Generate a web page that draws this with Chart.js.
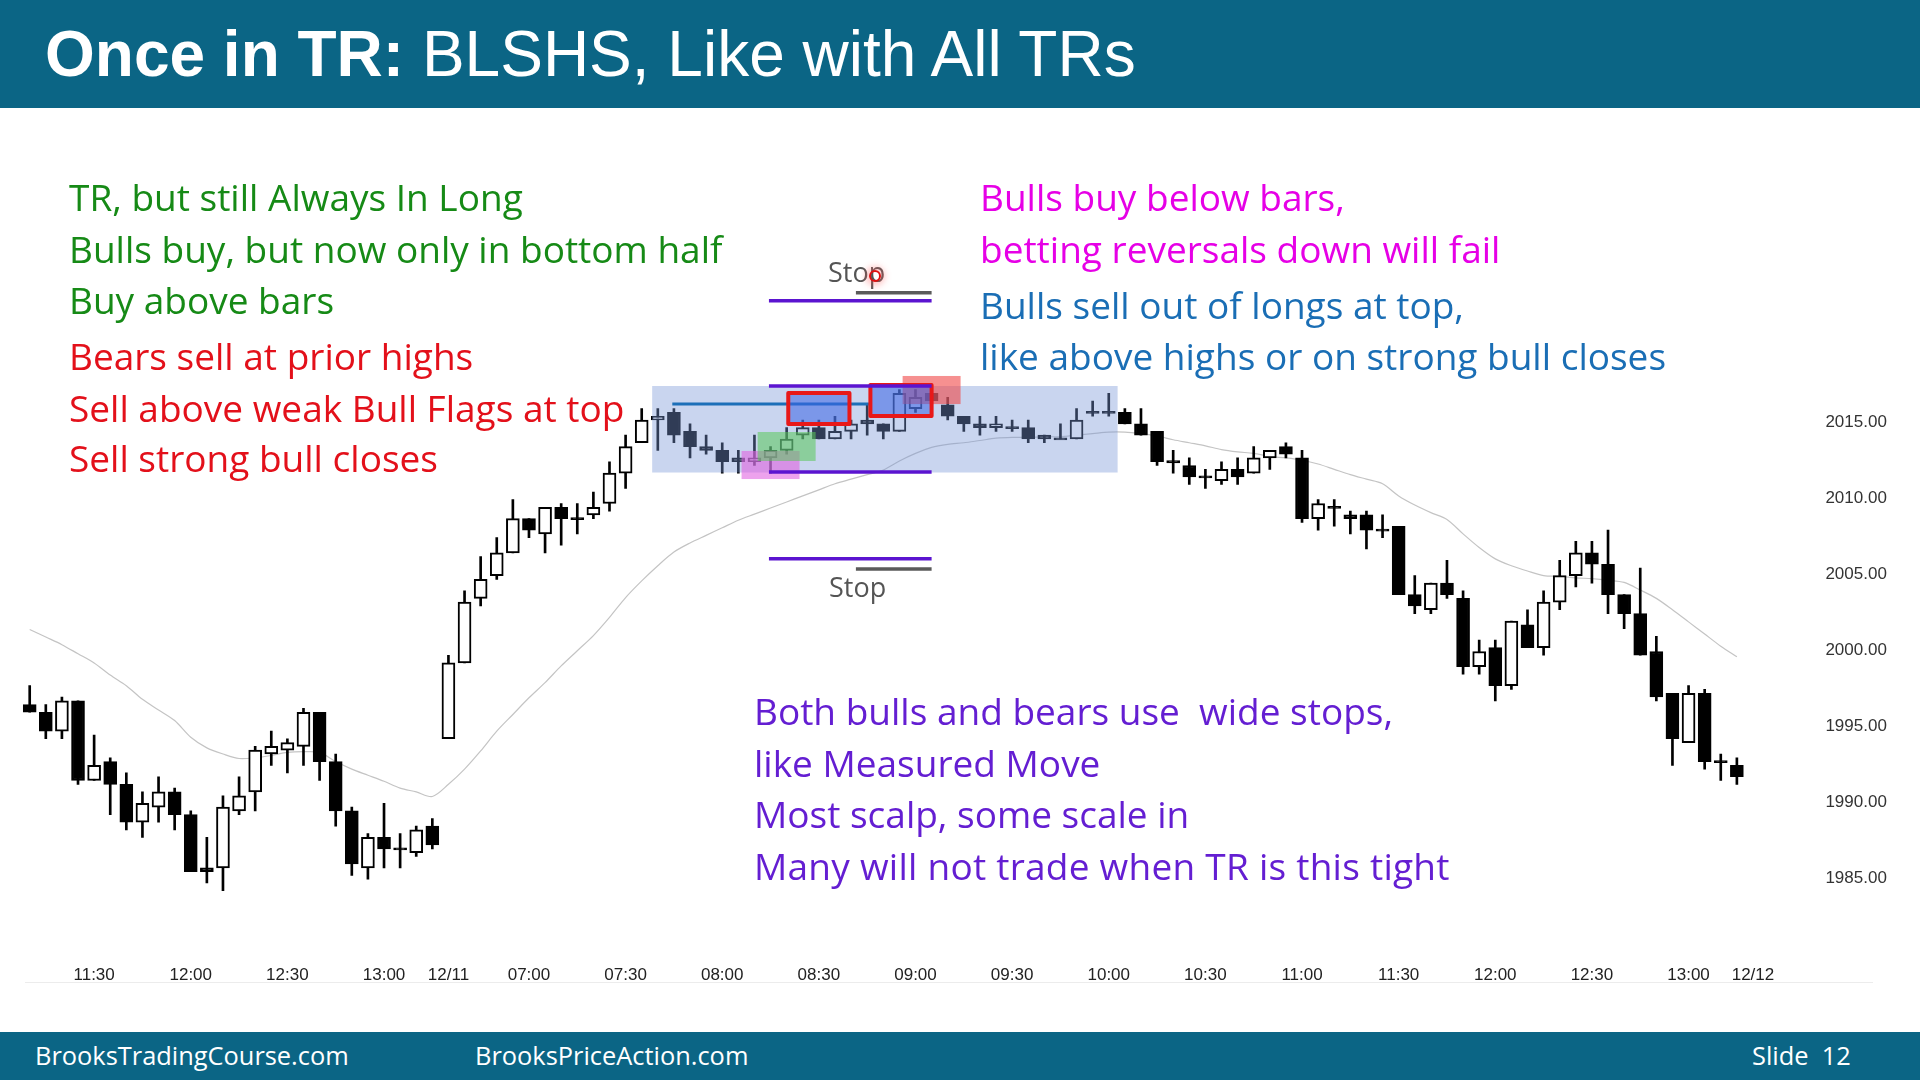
<!DOCTYPE html>
<html>
<head>
<meta charset="utf-8">
<script src="https://cdn.jsdelivr.net/npm/chart.js@4.4.1/dist/chart.umd.min.js"></script>
<style>
  html, body { margin: 0; padding: 0; background: #fff; }
  body { width: 1920px; height: 1080px; position: relative; overflow: hidden; font-family: 'Open Sans', sans-serif; }
  #c { position: absolute; left: 0; top: 0; }
  .band { position: absolute; left: 0; width: 1920px; background: #0b6585; color: #fff; }
  #head { top: 0; height: 108px; }
  #head .t { position: absolute; left: 45px; top: 0; line-height: 108px; font-size: 64px; font-family: 'Liberation Sans', Arial, sans-serif; white-space: pre; }
  #foot { top: 1032px; height: 48px; }
  #foot span { position: absolute; top: 0; line-height: 46px; font-size: 25.4px; white-space: pre; }
  .ln { position: absolute; font-size: 37px; line-height: 50px; white-space: pre; }
  .g { color: #168a16; left: 69px; }
  .r { color: #e3101a; left: 69px; }
  .m { color: #e600e6; left: 980px; }
  .b { color: #1a6eb5; left: 980px; }
  .p { color: #641ed2; left: 754px; }
  .stop { position: absolute; font-size: 27px; line-height: 34px; color: #555; }
  #dot { position: absolute; left: 869px; top: 270px; width: 8px; height: 8px; border: 2px solid #e01010; border-radius: 50%; box-shadow: 0 0 6px 4px rgba(255, 90, 90, 0.35); }
  #rule { position: absolute; left: 25px; top: 982px; width: 1848px; height: 1px; background: #ececec; }
</style>
</head>
<body>
<canvas id="c" width="1920" height="1080"></canvas>

<div class="band" id="head"><div class="t"><b>Once in TR:</b> BLSHS, Like with All TRs</div></div>

<div class="ln g" style="top:172px">TR, but still Always In Long</div>
<div class="ln g" style="top:224px">Bulls buy, but now only in bottom half</div>
<div class="ln g" style="top:275px">Buy above bars</div>
<div class="ln r" style="top:331px">Bears sell at prior highs</div>
<div class="ln r" style="top:383px">Sell above weak Bull Flags at top</div>
<div class="ln r" style="top:433px">Sell strong bull closes</div>

<div class="ln m" style="top:172px">Bulls buy below bars,</div>
<div class="ln m" style="top:224px">betting reversals down will fail</div>
<div class="ln b" style="top:280px">Bulls sell out of longs at top,</div>
<div class="ln b" style="top:331px">like above highs or on strong bull closes</div>

<div class="ln p" style="top:686px">Both bulls and bears use  wide stops,</div>
<div class="ln p" style="top:738px">like Measured Move</div>
<div class="ln p" style="top:789px">Most scalp, some scale in</div>
<div class="ln p" style="top:841px;letter-spacing:0.25px">Many will not trade when TR is this tight</div>

<div class="stop" style="left:828px;top:255px">Stop</div>
<div class="stop" style="left:829px;top:570px">Stop</div>
<div id="dot"></div>
<div id="rule"></div>

<div class="band" id="foot">
  <span style="left:35px">BrooksTradingCourse.com</span>
  <span style="left:475px">BrooksPriceAction.com</span>
  <span style="left:1752px">Slide  12</span>
</div>

<script>
// 5 minute bars, 12/10 afternoon and 12/11 day session

function session(from, to) {
  const out = [];
  let [h, m] = from.split(':').map(Number);
  const [eh, em] = to.split(':').map(Number);
  while (h < eh || (h === eh && m <= em)) {
    out.push(String(h).padStart(2, '0') + ':' + String(m).padStart(2, '0'));
    m += 5;
    if (m >= 60) { m -= 60; h++; }
  }
  return out;
}

const day1 = session('11:10', '13:15');
const day2 = session('06:35', '13:15');
day2[0] = '12/11';
const slots = [...day1, ...day2, '12/12'];

const tickLabels = ['11:30', '12:00', '12:30', '13:00', '12/11', '07:00', '07:30', '08:00', '08:30', '09:00',
  '09:30', '10:00', '10:30', '11:00', '12/12'];
const priceTicks = [1985, 1990, 1995, 2000, 2005, 2010, 2015];

const opens = [
  1996.25, 1995.75, 1994.5, 1996.5, 1991.25, 1992.5, 1991, 1988.5, 1989.5, 1990.5,
  1989, 1985.5, 1985.5, 1989.25, 1990.5, 1993, 1993.25, 1993.5, 1995.75, 1992.5,
  1989.25, 1985.5, 1987.5, 1986.75, 1986.5, 1988.25,
  1994, 1999, 2003.25, 2004.75, 2006.25, 2008.5, 2007.5, 2009.25, 2008.5, 2008.75,
  2009.5, 2011.5, 2013.5, 2015, 2015.5, 2014.25, 2013.25, 2013, 2012.5, 2012.25,
  2012.5, 2013, 2014, 2014.5, 2013.75, 2014.25, 2015, 2014.75, 2014.25, 2015.75,
  2016.75, 2016, 2015.25, 2014.75, 2014.5, 2014.5, 2014.5, 2014, 2013.75, 2013.75,
  2015.5, 2015.5, 2015.5, 2014.75, 2014.25, 2012.25, 2012, 2011.25, 2011, 2011.75,
  2011.5, 2012.5, 2013.25, 2012.5, 2008.5, 2009.25, 2008.75, 2008.75, 2007.75, 2008,
  2003.5, 2002.5, 2004.25, 2003.25, 1998.75, 2000, 1997.5, 2001.5, 2000, 2003,
  2004.75, 2006.25, 2005.5, 2003.5, 2002.25, 1999.75, 1997, 1993.75, 1997, 1992.5,
  1992.25
];
const highs = [
  1997.5, 1996.25, 1996.75, 1996.5, 1994.25, 1992.75, 1991.75, 1990.5, 1991.5, 1990.75,
  1989.25, 1987.5, 1990.25, 1991.5, 1993.5, 1994.5, 1994, 1996, 1995.75, 1993,
  1989.5, 1987.75, 1989.75, 1987.75, 1988.25, 1988.75,
  1999.5, 2003.75, 2006, 2007.25, 2009.75, 2008.5, 2009.25, 2009.5, 2009.5, 2010.25,
  2012.25, 2014, 2015.75, 2015.75, 2015.75, 2014.75, 2014, 2013.5, 2013, 2014,
  2013.25, 2014.5, 2015, 2015, 2015.25, 2015, 2016, 2014.75, 2017, 2017,
  2017, 2016.5, 2015.25, 2015.25, 2015.25, 2015, 2015, 2014, 2014.75, 2015.75,
  2016.25, 2016.75, 2015.75, 2015.75, 2014.25, 2013, 2012.5, 2011.75, 2012.25, 2012.5,
  2013.25, 2013, 2013.5, 2013, 2009.75, 2009.75, 2009, 2009, 2008.75, 2008,
  2004.75, 2004.25, 2005.75, 2003.75, 2000.5, 2000.5, 2001.75, 2002.5, 2003.75, 2005.75,
  2007, 2007, 2007.75, 2003.5, 2005.25, 2000.75, 1997, 1997.5, 1997.25, 1993,
  1992.75
];
const lows = [
  1995.75, 1994, 1994, 1991, 1991.25, 1989, 1988, 1987.5, 1988.5, 1988,
  1985.25, 1984.5, 1984, 1989, 1989.25, 1992.25, 1991.75, 1992.25, 1991.25, 1988.25,
  1985, 1984.75, 1985.5, 1985.5, 1986.25, 1986.75,
  1994, 1999, 2002.75, 2004.5, 2006.25, 2007.25, 2006.25, 2006.75, 2007.5, 2008.5,
  2009, 2010.5, 2013.5, 2013, 2013.5, 2012.5, 2012.75, 2011.5, 2011.5, 2012,
  2011.5, 2012.75, 2013.75, 2013.75, 2013.75, 2013.75, 2014, 2013.75, 2014.25, 2015.5,
  2016, 2015, 2014.25, 2014, 2014.25, 2014.25, 2013.5, 2013.5, 2013.75, 2013.75,
  2015.25, 2015.25, 2014.75, 2014, 2012, 2011.5, 2010.75, 2010.5, 2010.75, 2010.75,
  2011.5, 2011.75, 2012.5, 2008.25, 2007.75, 2008, 2007.5, 2006.5, 2007.25, 2003.5,
  2002.25, 2002.25, 2003.25, 1998.25, 1998.25, 1996.5, 1997.25, 2000, 1999.5, 2002.5,
  2004, 2004.25, 2002.25, 2001.25, 1999.5, 1996.5, 1992.25, 1993.75, 1992, 1991.25,
  1991
];
const closes = [
  1995.75, 1994.5, 1996.5, 1991.25, 1992.25, 1991, 1988.5, 1989.75, 1990.5, 1989,
  1985.25, 1985.25, 1989.5, 1990.25, 1993.25, 1993.5, 1993.75, 1995.75, 1992.5, 1989.25,
  1985.75, 1987.5, 1986.75, 1986.75, 1988, 1987,
  1999, 2003, 2004.5, 2006.25, 2008.5, 2007.75, 2009.25, 2008.5, 2008.5, 2009.25,
  2011.5, 2013.25, 2015, 2015.25, 2014, 2013.25, 2013, 2012.25, 2012.25, 2012.5,
  2013, 2013.75, 2014.5, 2013.75, 2014.25, 2014.75, 2014.75, 2014.25, 2016.75, 2016.5,
  2016.25, 2015.25, 2014.75, 2014.5, 2014.75, 2014.5, 2013.75, 2013.75, 2013.75, 2015,
  2015.5, 2015.5, 2014.75, 2014, 2012.25, 2012.25, 2011.25, 2011.25, 2011.75, 2011.25,
  2012.5, 2013, 2012.75, 2008.5, 2009.5, 2009.25, 2008.5, 2007.75, 2007.75, 2003.5,
  2002.75, 2004.25, 2003.5, 1998.75, 1999.75, 1997.5, 2001.75, 2000, 2003, 2004.75,
  2006.25, 2005.5, 2003.5, 2002.25, 1999.5, 1996.75, 1994, 1997, 1992.5, 1992.5,
  1991.5
];
// moving average
const avg = [
  2001.2, 2000.7, 2000.2, 1999.6, 1999.0, 1998.2, 1997.5, 1996.6, 1995.9, 1995.2,
  1994.1, 1993.4, 1993.0, 1992.7, 1992.75, 1992.9, 1993.1, 1993.15, 1993.1, 1992.5,
  1992.0, 1991.6, 1991.2, 1990.75, 1990.5, 1990.2,
  1991.0, 1992.0, 1993.2, 1994.5, 1995.6, 1996.7, 1997.7, 1998.8, 1999.8, 2000.8,
  2002.0, 2003.3, 2004.4, 2005.4, 2006.3, 2006.9, 2007.4, 2007.9, 2008.4, 2008.8,
  2009.2, 2009.6, 2010.0, 2010.4, 2010.8, 2011.1, 2011.4, 2011.7, 2012.3, 2012.8,
  2013.2, 2013.4, 2013.5, 2013.65, 2013.8, 2013.85, 2013.85, 2013.9, 2013.9, 2014.0,
  2014.1, 2014.2, 2014.2, 2014.1, 2013.95, 2013.7, 2013.5, 2013.3, 2013.05, 2012.9,
  2012.8, 2012.6, 2012.5, 2012.35, 2012.1, 2011.75, 2011.4, 2011.1, 2010.8, 2010.0,
  2009.4, 2008.9, 2008.45, 2007.5, 2006.6, 2005.85, 2005.4, 2005.05, 2004.75, 2004.7,
  2004.6, 2004.55, 2004.45, 2004.3, 2003.8, 2003.25, 2002.5, 2001.7, 2000.9, 2000.1,
  1999.4
];

// drawn marks on the slide, in bar index / price units
const marks = [
  { kind: 'box', x0: 38.65, x1: 67.55, y0: 2011.54, y1: 2017.24, fill: 'rgba(120,150,215,0.4)' },
  { kind: 'line', x0: 39.9, x1: 52.2, y: 2016.05, color: '#1c6fb8', width: 3 },
  { kind: 'box', x0: 44.2, x1: 47.8, y0: 2011.11, y1: 2012.96, fill: 'rgba(225,100,225,0.6)' },
  { kind: 'box', x0: 45.2, x1: 48.8, y0: 2012.3, y1: 2014.21, fill: 'rgba(90,200,90,0.55)' },
  { kind: 'box', x0: 54.2, x1: 57.8, y0: 2016.05, y1: 2017.9, fill: 'rgba(240,70,70,0.6)' },
  { kind: 'box', x0: 47.1, x1: 50.9, y0: 2014.74, y1: 2016.78, fill: 'rgba(60,100,230,0.55)', stroke: '#e81818' },
  { kind: 'box', x0: 52.2, x1: 56.0, y0: 2015.26, y1: 2017.31, fill: 'rgba(60,100,230,0.55)', stroke: '#e81818' },
  { kind: 'line', x0: 45.9, x1: 56.0, y: 2017.24, color: '#5b14d0', width: 3.5 },
  { kind: 'line', x0: 45.9, x1: 56.0, y: 2011.57, color: '#5b14d0', width: 3.5 },
  { kind: 'line', x0: 45.9, x1: 56.0, y: 2022.86, color: '#5b14d0', width: 3.5 },
  { kind: 'line', x0: 45.9, x1: 56.0, y: 2005.86, color: '#5b14d0', width: 3.5 },
  { kind: 'line', x0: 51.3, x1: 56.0, y: 2023.39, color: '#5a5a5a', width: 3.5 },
  { kind: 'line', x0: 51.3, x1: 56.0, y: 2005.18, color: '#5a5a5a', width: 3.5 }
];

const tickIdx = slots.map((s, i) => tickLabels.includes(s) ? i : -1).filter(i => i >= 0);

const bodies = opens.map((o, i) => {
  const c = closes[i];
  return { x: i, y: o === c ? [o - 0.07, o + 0.07] : [o, c] };
});
const wicks = highs.map((h, i) => ({ x: i, y: [lows[i], h] }));
const bodyFill = opens.map((o, i) => closes[i] > o ? '#ffffff' : '#000000');

const overlay = {
  id: 'overlay',
  afterDatasetsDraw(chart) {
    const { ctx, scales: { x, y } } = chart;
    ctx.save();
    for (const m of marks) {
      if (m.kind === 'box') {
        const l = x.getPixelForValue(m.x0), r = x.getPixelForValue(m.x1);
        const t = y.getPixelForValue(m.y1), b = y.getPixelForValue(m.y0);
        ctx.fillStyle = m.fill;
        ctx.fillRect(l, t, r - l, b - t);
        if (m.stroke) {
          ctx.strokeStyle = m.stroke;
          ctx.lineWidth = 4;
          ctx.lineJoin = 'round';
          ctx.strokeRect(l, t, r - l, b - t);
        }
      } else {
        const py = y.getPixelForValue(m.y);
        ctx.strokeStyle = m.color;
        ctx.lineWidth = m.width;
        ctx.beginPath();
        ctx.moveTo(x.getPixelForValue(m.x0), py);
        ctx.lineTo(x.getPixelForValue(m.x1), py);
        ctx.stroke();
      }
    }
    ctx.restore();
  }
};

new Chart(document.getElementById('c'), {
  type: 'bar',
  data: {
    datasets: [
      {
        data: bodies, backgroundColor: bodyFill, borderColor: '#000', borderWidth: 2,
        borderSkipped: false, barThickness: 13, grouped: false, order: 1
      },
      {
        data: wicks, backgroundColor: '#000', borderWidth: 0,
        barThickness: 2, grouped: false, order: 2
      },
      {
        type: 'line', data: avg.map((v, i) => ({ x: i, y: v })),
        borderColor: '#c4c4c4', borderWidth: 1.2, pointRadius: 0, tension: 0.3, order: 3
      }
    ]
  },
  options: {
    responsive: false,
    animation: false,
    devicePixelRatio: 1,
    layout: { padding: { left: 21.65, right: 0, top: 116.4, bottom: 88.7 } },
    plugins: { legend: { display: false }, tooltip: { enabled: false } },
    scales: {
      x: {
        type: 'linear', min: -0.5, max: 111, offset: false,
        grid: { display: false, drawTicks: false }, border: { display: false },
        afterBuildTicks: s => { s.ticks = tickIdx.map(v => ({ value: v })); },
        afterFit: s => { s.height = 40; },
        ticks: {
          autoSkip: false, maxRotation: 0, padding: 14, color: '#222',
          font: { family: 'Liberation Sans', size: 17 },
          callback: v => slots[v]
        }
      },
      y: {
        position: 'right', min: 1980, max: 2035, beginAtZero: false,
        grid: { display: false, drawTicks: false }, border: { display: false },
        afterBuildTicks: s => { s.ticks = priceTicks.map(v => ({ value: v })); },
        afterFit: s => { s.width = 102.6; },
        ticks: {
          padding: 8, labelOffset: 2.5, color: '#333',
          font: { family: 'Liberation Sans', size: 17 },
          callback: v => v.toFixed(2)
        }
      }
    }
  },
  plugins: [overlay]
});
</script>
</body>
</html>
